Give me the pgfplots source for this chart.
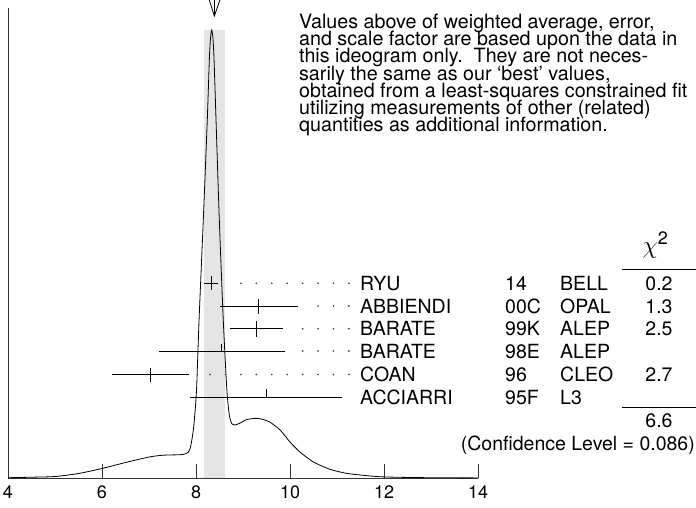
\documentclass[border=0pt]{standalone}
\usepackage{pgfplots}
\pgfplotsset{compat=1.18}
\usepackage{pgfplotstable}
\usepackage{fontspec}
\setmainfont{TeX Gyre Heros}
\lineskiplimit=-20pt

% ideogram curve (height in arbitrary units above the baseline)
\pgfplotstableread{
x      h
4.0    0.3
4.5    0.8
5.0    1.5
5.5    4.5
6.0    9.5
6.5    15.5
7.0    21
7.3    22.8
7.66   23.3
7.766  24
7.83   25.5
7.872  29
7.904  36
7.943  48
7.979  66
8.014  91
8.065  158
8.155  258
8.240  358
8.285  420
8.309  440
8.334  448
8.360  440
8.383  420
8.426  358
8.496  258
8.580  158
8.653  91
8.69   70
8.72   60
8.766  54
8.83   53
8.94   55
9.085  58.5
9.29   59.7
9.43   58.5
9.57   56
9.79   48
10.0   36
10.21  26
10.5   16
10.85  8.7
11.2   4.7
11.6   2.5
11.91  1.3
12.34  0.7
13.0   0.3
14.0   0.1
}\ideogram

% measurements: value, row height, errors, half-length of the centre tick
\pgfplotstableread{
x     h      em    ep    up   dn
8.32  194.7  0.15  0.15  7    7
9.33  172.0  0.82  0.84  7.5  7.5
9.28  149.3  0.56  0.57  8    8
8.55  127.0  1.34  1.34  7    0
7.04  103.5  0.83  0.81  7    7
9.49  81.0   1.62  1.61  8    0
}\measurements

\begin{document}
\begin{tikzpicture}[
    lbl/.style={font=\fontsize{19.5}{19.5}\selectfont, anchor=west, inner sep=0pt,
                text height=14pt, text depth=0pt},
    num/.style={lbl, anchor=center},
  ]
  \begin{axis}[
      scale only axis, width=470pt, height=470pt,
      xmin=4, xmax=14, ymin=0, ymax=470,
      axis x line=bottom, axis y line=left,
      axis line style={-, line width=0.8pt, black!80},
      xtick={4,6,8,10,12,14},
      xticklabels={4,6,8,10,12,14},
      ytick=\empty,
      tick align=inside, major tick length=14pt,
      tick style={line width=0.8pt, black!80},
      xticklabel style={font=\fontsize{18}{18}\selectfont, yshift=-4pt},
      clip=false,
    ]
    % weighted average band
    \addplot[fill=black!10, draw=none] coordinates {(8.17,448) (8.62,448)} \closedcycle;

    \addplot[black, line width=0.8pt, smooth, tension=0.4] table[x=x, y=h] {\ideogram};

    % arrow at the average
    \addplot[black, line width=0.8pt] coordinates {(8.283,478) (8.39,462) (8.51,478)};
    \addplot[black, line width=0.8pt] coordinates {(8.39,478) (8.39,462)};

    % measurements
    \addplot[draw=none, mark=none,
      error bars/.cd, x dir=both, x explicit, y dir=both, y explicit, error mark=none,
      error bar style={draw=black, line width=0.8pt, solid}]
      table[x=x, y=h, x error plus=ep, x error minus=em,
            y error plus=up, y error minus=dn] {\measurements};

    % dotted leaders
    \addplot[only marks, mark=*, mark size=0.65pt, black!70] coordinates {
      (8.956,194.7) (9.284,194.7) (9.612,194.7) (9.940,194.7)
      (10.268,194.7) (10.596,194.7) (10.924,194.7) (11.252,194.7)
      (10.596,172) (10.924,172) (11.252,172)
      (10.268,149.3) (10.596,149.3) (10.924,149.3) (11.252,149.3)
      (10.268,127) (10.596,127) (10.924,127) (11.252,127)
      (8.300,103.5) (8.628,103.5) (8.956,103.5) (9.284,103.5) (9.612,103.5)
      (9.940,103.5) (10.268,103.5) (10.596,103.5) (10.924,103.5) (11.252,103.5)
    };

    % table of measurements
    \node[lbl] at (axis cs:11.489,194.7) {RYU};
    \node[lbl] at (axis cs:11.489,172.0) {ABBIENDI};
    \node[lbl] at (axis cs:11.489,149.3) {BARATE};
    \node[lbl] at (axis cs:11.489,127.0) {BARATE};
    \node[lbl] at (axis cs:11.489,103.5) {COAN};
    \node[lbl] at (axis cs:11.489,81.0) {ACCIARRI};

    \node[lbl] at (axis cs:14.574,194.7) {14};
    \node[lbl] at (axis cs:14.574,172.0) {00C};
    \node[lbl] at (axis cs:14.574,149.3) {99K};
    \node[lbl] at (axis cs:14.574,127.0) {98E};
    \node[lbl] at (axis cs:14.574,103.5) {96};
    \node[lbl] at (axis cs:14.574,81.0) {95F};

    \node[lbl] at (axis cs:15.745,194.7) {BELL};
    \node[lbl] at (axis cs:15.745,172.0) {OPAL};
    \node[lbl] at (axis cs:15.745,149.3) {ALEP};
    \node[lbl] at (axis cs:15.745,127.0) {ALEP};
    \node[lbl] at (axis cs:15.745,103.5) {CLEO};
    \node[lbl] at (axis cs:15.745,81.0) {L3};

    \node[num] at (axis cs:17.851,194.7) {0.2};
    \node[num] at (axis cs:17.851,172.0) {1.3};
    \node[num] at (axis cs:17.851,149.3) {2.5};
    \node[num] at (axis cs:17.851,103.5) {2.7};
    \node[num] at (axis cs:17.851,58) {6.6};

    \node[anchor=base west, inner sep=0pt] at (axis cs:17.50,225)
      {\fontsize{25}{25}\selectfont$\chi$\raisebox{9pt}{\fontsize{18}{18}\selectfont 2}};
    \draw[line width=0.8pt] (axis cs:17.064,209) -- (axis cs:18.638,209);
    \draw[line width=0.8pt] (axis cs:17.064,70.7) -- (axis cs:18.638,70.7);
    \node[lbl, anchor=east] at (axis cs:18.617,35) {(Confidence Level = 0.086)};

    \node[anchor=north west, inner sep=0pt, align=left,
      font=\fontsize{19.7}{17.3}\selectfont]
      at (axis cs:10.19,464.5) {Values above of weighted average, error,\\
      and scale factor are based upon the data in\\
      this ideogram only.\ \ They are not neces-\\
      sarily the same as our `best' values,\\
      obtained from a least-squares constrained fit\\
      utilizing measurements of other (related)\\
      quantities as additional information.};

    \coordinate (bbl) at (axis cs:3.8298,-29);
    \coordinate (btr) at (axis cs:18.638,478);
  \end{axis}
  \pgfresetboundingbox
  \path[use as bounding box] (bbl) rectangle (btr);
\end{tikzpicture}
\end{document}
